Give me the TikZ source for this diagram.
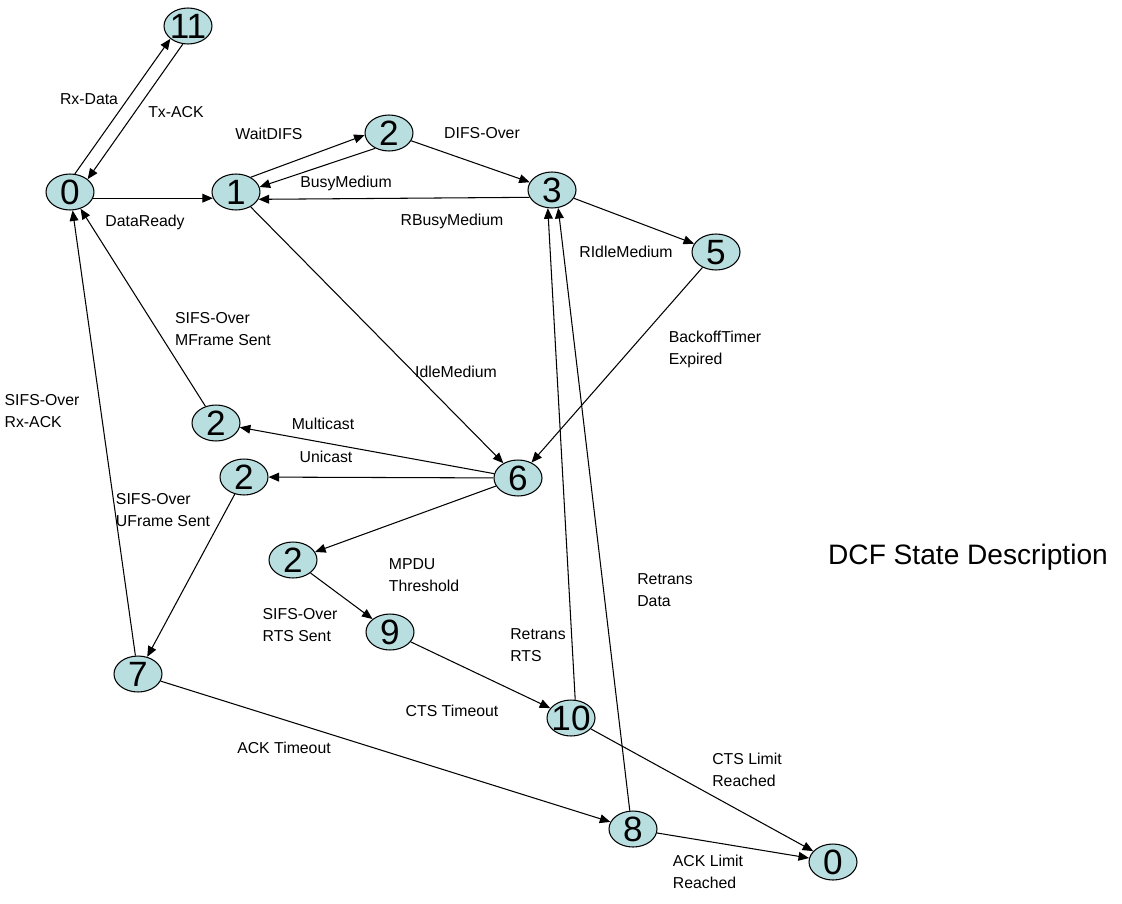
\documentclass[tikz,border=0pt]{standalone}
\usepackage{fontspec}
\setmainfont{Liberation Sans}
\usetikzlibrary{arrows.meta, shapes.geometric}
\definecolor{statefill}{RGB}{184,222,224}

\begin{document}
\begin{tikzpicture}[x=0.02cm, y=-0.02cm, >={Triangle[length=6pt,width=5pt]}, line width=0.6pt,
    state/.style={ellipse, draw, fill=statefill, minimum width=0.96cm, minimum height=0.72cm,
      inner xsep=-5pt, inner ysep=0pt, text height=14.3pt, text depth=0pt, font=\fontsize{20}{20}\selectfont},
    lbl/.style={font=\fontsize{9}{12.5}\selectfont, align=left, inner sep=0pt}]

    \useasboundingbox (0,0) rectangle (1122,903);

    % states
    \node[state] (s11) at (188,26) {11};
    \node[state] (s0a) at (70,192) {0};
    \node[state] (s1) at (236,192) {1};
    \node[state] (s2a) at (389,133) {2};
    \node[state] (s3) at (552,190) {3};
    \node[state] (s5) at (716,252) {5};
    \node[state] (s2m) at (216,423) {2};
    \node[state] (s2u) at (244,477) {2};
    \node[state] (s6) at (518,478) {6};
    \node[state] (s2r) at (293,560) {2};
    \node[state] (s9) at (390,632) {9};
    \node[state] (s10) at (571,718) {10};
    \node[state] (s7) at (138,674) {7};
    \node[state] (s8) at (633,829) {8};
    \node[state] (s0b) at (833,862) {0};

    % transitions
    \draw[->] (s0a.75) -- (s11.216);
    \draw[->] (s11.254) -- (s0a.36);
    \draw[->] (s0a.-15) -- (s1.195);
    \draw[->] (s1.45) -- (s2a.185);
    \draw[->] (s2a.228) -- (s1.12);
    \draw[->] (s2a) -- (s3);
    \draw[->] (s3.198) -- (s1.-18);
    \draw[->] (s3) -- (s5);
    \draw[->] (s1) -- (s6);
    \draw[->] (s5) -- (s6);
    \draw[->] (s6) -- (s2m);
    \draw[->] (s6) -- (s2u);
    \draw[->] (s6) -- (s2r);
    \draw[->] (s2m) -- (s0a);
    \draw[->] (s7) -- (s0a);
    \draw[->] (s2u) -- (s7);
    \draw[->] (s2r) -- (s9);
    \draw[->] (s9) -- (s10);
    \draw[->] (s10.77) -- (s3.257);
    \draw[->] (s8.100) -- (s3.289);
    \draw[->] (s10) -- (s0b);
    \draw[->] (s8) -- (s0b);
    \draw[->] (s7) -- (s8);

    % labels
    \node[lbl] (tRxData) at (89,99) {Rx-Data};
    \node[lbl] (tTxAck) at (176,112) {Tx-ACK};
    \node[lbl] (tWait) at (269,134) {WaitDIFS};
    \node[lbl] (tDifs) at (482,133) {DIFS-Over};
    \node[lbl] (tBusy) at (346,183) {BusyMedium};
    \node[lbl] (tReady) at (145,222) {DataReady};
    \node[lbl] (tRBusy) at (452,221) {RBusyMedium};
    \node[lbl] (tRIdle) at (626,252) {RIdleMedium};
    \node[lbl] (tMFrame) at (223,329) {SIFS-Over\\MFrame Sent};
    \node[lbl] (tIdle) at (456,372) {IdleMedium};
    \node[lbl] (tBackoff) at (715,349) {BackoffTimer\\Expired};
    \node[lbl] (tMulti) at (323,424) {Multicast};
    \node[lbl] (tRxAck) at (42,411) {SIFS-Over\\Rx-ACK};
    \node[lbl] (tUni) at (326,457) {Unicast};
    \node[lbl] (tUFrame) at (163,510) {SIFS-Over\\UFrame Sent};
    \node[lbl] (tMpdu) at (424,575) {MPDU\\Threshold};
    \node[lbl] (tReData) at (665,590) {Retrans\\Data};
    \node[lbl] (tRts) at (300,625) {SIFS-Over\\RTS Sent};
    \node[lbl] (tReRts) at (538,645) {Retrans\\RTS};
    \node[lbl] (tCts) at (452,711) {CTS Timeout};
    \node[lbl] (tAck) at (284,748) {ACK Timeout};
    \node[lbl] (tCtsLim) at (747,770) {CTS Limit\\Reached};
    \node[lbl] (tAckLim) at (708,872) {ACK Limit\\Reached};

    \node[font=\fontsize{16}{16}\selectfont, inner sep=0pt] (title) at (968,557) {DCF State Description};

\end{tikzpicture}
\end{document}
